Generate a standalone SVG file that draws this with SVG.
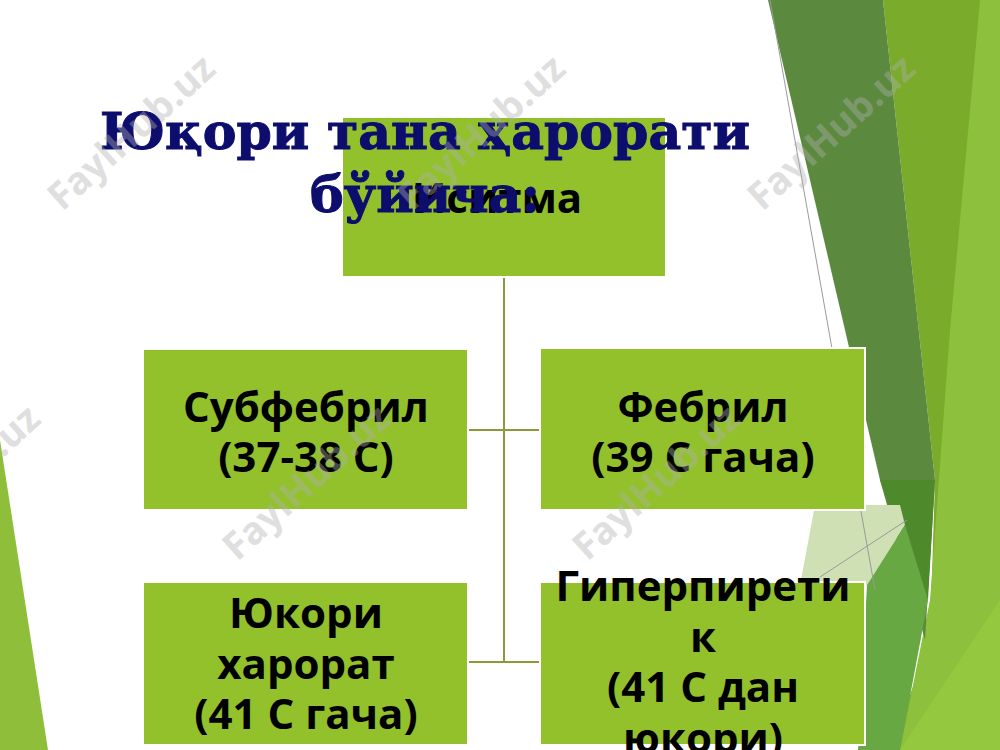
<svg xmlns="http://www.w3.org/2000/svg" width="1000" height="750" viewBox="0 0 1000 750">
  <style>
    .box { fill: #92c12c; stroke: #ffffff; stroke-width: 2; }
    .lbl { font-family: "Open Sans", "Noto Sans", "DejaVu Sans", sans-serif; font-weight: bold; font-size: 42px; fill: #000000; text-anchor: middle; }
    .title { font-family: "DejaVu Serif", "Liberation Serif", serif; font-weight: bold; font-size: 50px; fill: #0d0d6e; stroke: #0d0d6e; stroke-width: 1; text-anchor: middle; }
    .conn { stroke: #8a9a3b; stroke-width: 2; fill: none; }
    .wm { font-family: "Open Sans", "DejaVu Sans", sans-serif; font-weight: bold; font-size: 38px; fill: #b0b0b0; opacity: 0.4; text-anchor: middle; }
  </style>
  <rect x="0" y="0" width="1000" height="750" fill="#ffffff"/>
  <g id="background">
    <polygon points="0,440 0,750 48,750" fill="#8fbf3a"/>
    <polygon points="883,0 1000,0 1000,750 890,750 930,640 935,480" fill="#7aab2b"/>
    <polygon points="980,0 1000,0 1000,750 900,750 930,600 950,330" fill="#8cc03d"/>
    <polygon points="768,0 883,0 935,480 925,640 880,480" fill="#5b8a3e"/>
    <polygon points="880,480 935,480 928,600 900,540" fill="#4e8a2c"/>
    <polygon points="815,505 900,505 905,525 867,585 800,585" fill="#cfe0b4"/>
    <polygon points="867,585 905,525 928,600 900,750 858,750" fill="#67a843"/>
    <polygon points="900,750 1000,600 1000,750" fill="#94c83f"/>
    <line x1="770" y1="0" x2="875" y2="590" stroke="#9a9a9a" stroke-width="1"/>
    <line x1="820" y1="577" x2="907" y2="520" stroke="#9a9a9a" stroke-width="1"/>
  </g>
  <g id="connectors">
    <line class="conn" x1="504" y1="278" x2="504" y2="662"/>
    <line class="conn" x1="468" y1="430" x2="540" y2="430"/>
    <line class="conn" x1="468" y1="662" x2="540" y2="662"/>
  </g>
  <g id="node-root">
    <rect class="box" x="342" y="117" width="324" height="160"/>
    <text class="lbl" x="497" y="213">Иситма</text>
  </g>
  <g id="node-subfebril">
    <rect class="box" x="143" y="349" width="325" height="161"/>
    <text class="lbl" x="306" y="422">Субфебрил</text>
    <text class="lbl" x="306" y="472">(37-38 С)</text>
  </g>
  <g id="node-febril">
    <rect class="box" x="540" y="348" width="325" height="162"/>
    <text class="lbl" x="703" y="422">Фебрил</text>
    <text class="lbl" x="703" y="472">(39 С гача)</text>
  </g>
  <g id="node-yukori">
    <rect class="box" x="143" y="582" width="325" height="163"/>
    <text class="lbl" x="306" y="628">Юкори</text>
    <text class="lbl" x="306" y="679">харорат</text>
    <text class="lbl" x="306" y="729">(41 С гача)</text>
  </g>
  <g id="node-giperpiretik">
    <rect class="box" x="540" y="582" width="325" height="163"/>
    <text class="lbl" x="703" y="601">Гиперпирети</text>
    <text class="lbl" x="703" y="652">к</text>
    <text class="lbl" x="703" y="702">(41 С дан</text>
    <text class="lbl" x="703" y="753">юкори)</text>
  </g>
  <g id="title">
    <text class="title" x="425" y="149" textLength="650" lengthAdjust="spacingAndGlyphs">Юқори тана ҳарорати</text>
    <text class="title" x="425" y="212" textLength="230" lengthAdjust="spacingAndGlyphs">бўйича:</text>
  </g>
  <g id="watermarks">
    <text class="wm" transform="translate(140,142) rotate(-42)">FaylHub.uz</text>
    <text class="wm" transform="translate(490,142) rotate(-42)">FaylHub.uz</text>
    <text class="wm" transform="translate(840,142) rotate(-42)">FaylHub.uz</text>
    <text class="wm" transform="translate(-35,492) rotate(-42)">FaylHub.uz</text>
    <text class="wm" transform="translate(315,492) rotate(-42)">FaylHub.uz</text>
    <text class="wm" transform="translate(665,492) rotate(-42)">FaylHub.uz</text>
  </g>
</svg>
